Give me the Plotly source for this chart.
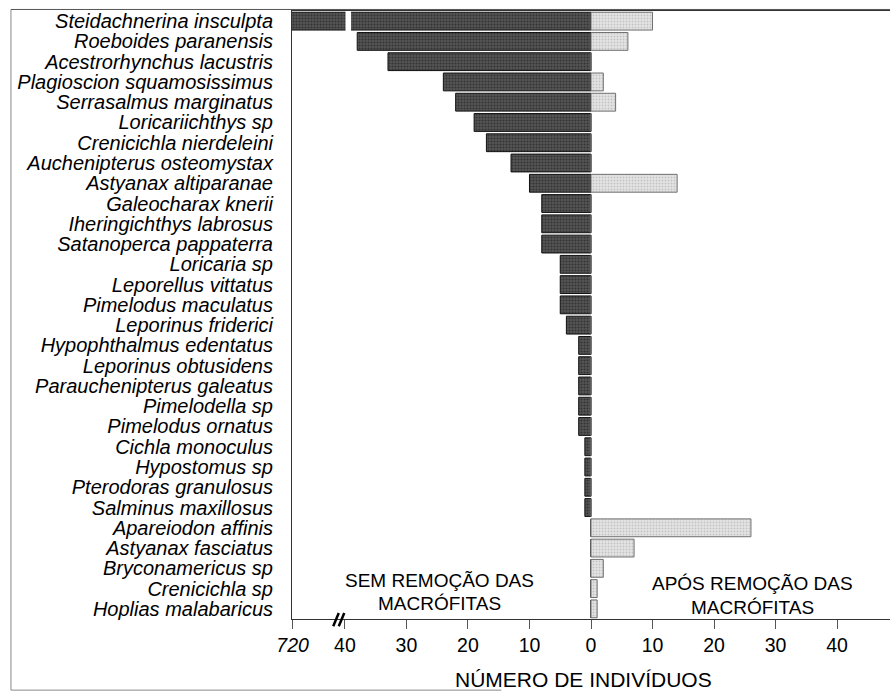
import plotly.graph_objects as go

species = [
    "Steidachnerina insculpta", "Roeboides paranensis", "Acestrorhynchus lacustris",
    "Plagioscion squamosissimus", "Serrasalmus marginatus", "Loricariichthys sp",
    "Crenicichla nierdeleini", "Auchenipterus osteomystax", "Astyanax altiparanae",
    "Galeocharax knerii", "Iheringichthys labrosus", "Satanoperca pappaterra",
    "Loricaria sp", "Leporellus vittatus", "Pimelodus maculatus", "Leporinus friderici",
    "Hypophthalmus edentatus", "Leporinus obtusidens", "Parauchenipterus galeatus",
    "Pimelodella sp", "Pimelodus ornatus", "Cichla monoculus", "Hypostomus sp",
    "Pterodoras granulosus", "Salminus maxillosus", "Apareiodon affinis",
    "Astyanax fasciatus", "Bryconamericus sp", "Crenicichla sp", "Hoplias malabaricus",
]
sem_remocao = [720, 38, 33, 24, 22, 19, 17, 13, 10, 8, 8, 8, 5, 5, 5, 4,
               2, 2, 2, 2, 2, 1, 1, 1, 1, 0, 0, 0, 0, 0]
apos_remocao = [10, 6, 0, 2, 4, 0, 0, 0, 14, 0, 0, 0, 0, 0, 0, 0,
                0, 0, 0, 0, 0, 0, 0, 0, 0, 26, 7, 2, 1, 1]
tick_vals = [-48.5, -40, -30, -20, -10, 0, 10, 20, 30, 40]
tick_text = ["<i>720</i>", "40", "30", "20", "10", "0", "10", "20", "30", "40"]

FONT = "Liberation Sans, Arial, Helvetica, sans-serif"

fig = go.Figure()
fig.add_trace(go.Bar(
    y=species, x=[-v for v in sem_remocao], orientation="h",
    marker=dict(color="#3c3c3c", line=dict(color="#111111", width=1),
                pattern=dict(shape=".", fgcolor="#111111", bgcolor="#555555",
                             size=3, solidity=0.4)),
    showlegend=False, hoverinfo="skip",
))
fig.add_trace(go.Bar(
    y=species, x=apos_remocao, orientation="h",
    marker=dict(color="#dcdcdc", line=dict(color="#707070", width=1),
                pattern=dict(shape=".", fgcolor="#a0a0a0", bgcolor="#e4e4e4",
                             size=3, solidity=0.3)),
    showlegend=False, hoverinfo="skip",
))

shapes = []
# break gap in the first (720) bar
shapes.append(dict(type="rect", xref="x", yref="y", x0=-39.9, x1=-39.0,
                   y0=-0.5, y1=0.5, fillcolor="white", line=dict(width=0), layer="above"))
# axis break marks "//"
for dx in (0.0, 0.9):
    shapes.append(dict(type="line", xref="x", yref="paper",
                       x0=-41.9 + dx, x1=-41.0 + dx, y0=-0.012, y1=0.010,
                       line=dict(color="black", width=2.5)))
# outer frame (left, top, bottom)
frame_color = "#8a8a8a"
shapes.append(dict(type="line", xref="paper", yref="paper", x0=-0.47, x1=-0.47,
                   y0=-0.117, y1=1.0025, line=dict(color=frame_color, width=1)))
shapes.append(dict(type="line", xref="paper", yref="paper", x0=-0.47, x1=1.0,
                   y0=1.0025, y1=1.0025, line=dict(color="#555555", width=1)))
shapes.append(dict(type="line", xref="paper", yref="paper", x0=-0.47, x1=0.35,
                   y0=-0.117, y1=-0.117, line=dict(color=frame_color, width=1)))

def label(text, x, y, size=19):
    return dict(text=text, x=x, xref="x", y=y, yref="paper", showarrow=False,
                xanchor="center", yanchor="middle",
                font=dict(size=size, family=FONT, color="black"))

annotations = [
    label("SEM REMOÇÃO DAS", -24.6, 0.0641),
    label("MACRÓFITAS", -24.6, 0.0263),
    label("APÓS REMOÇÃO DAS", 26.2, 0.0592),
    label("MACRÓFITAS", 26.2, 0.0197),
    label("NÚMERO DE INDIVÍDUOS", -1.3, -0.099, size=21),
]

fig.update_layout(
    width=890, height=695,
    margin=dict(l=292, r=0, t=11, b=76),
    paper_bgcolor="white", plot_bgcolor="white",
    barmode="overlay", bargap=0.12,
    font=dict(family=FONT, color="black"),
    shapes=shapes, annotations=annotations,
    xaxis=dict(range=[-48.6, 48.6], tickvals=tick_vals, ticktext=tick_text,
               ticks="outside", ticklen=9, tickcolor="#555", tickwidth=1,
               showline=True, linecolor="#333", linewidth=1, mirror=True,
               showgrid=False, zeroline=False, automargin=False,
               tickfont=dict(size=19.5, family=FONT, color="black")),
    yaxis=dict(autorange="reversed", showline=True, linecolor="#333", linewidth=1,
               showgrid=False, ticks="", ticklabelstandoff=14, automargin=False,
               tickmode="array", tickvals=species, ticktext=species,
               tickfont=dict(size=20, family=FONT, color="black", style="italic")),
)

fig.write_html(
    "out.html",
    config={"displayModeBar": False},
    post_script="document.body.style.margin='0px';document.body.style.overflow='hidden';",
)
